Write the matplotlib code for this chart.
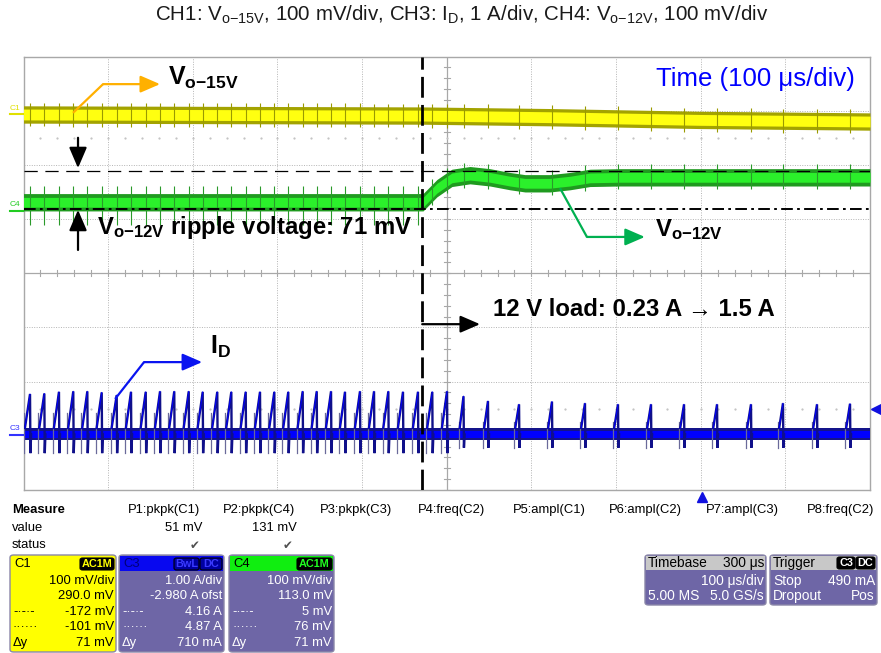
import numpy as np
import matplotlib
matplotlib.use("Agg")
import matplotlib.pyplot as plt
from matplotlib.patches import FancyBboxPatch, Rectangle
from matplotlib.lines import Line2D

plt.rcParams['font.family'] = ['Liberation Sans', 'DejaVu Sans']
plt.rcParams['mathtext.fontset'] = 'custom'
plt.rcParams['mathtext.rm'] = 'Liberation Sans'
plt.rcParams['mathtext.it'] = 'Liberation Sans'
plt.rcParams['mathtext.bf'] = 'Liberation Sans:bold'

# ---------------- data (time in µs, amplitude in screen divisions) ----------------
step_t = -29.0                       # load step instant
# CH1  Vo-15V band centre
c1_t = [-500, -29, 122, 299, 500]
c1_y = [2.93, 2.91, 2.88, 2.83, 2.80]
# CH4  Vo-12V band centre
c4_t = [-500, -29.3, -28.0, -11.6, 6.1, 27.4, 51.0, 74.7, 92.4, 121.9, 145.6, 169.2, 204.7, 500]
c4_y = [1.31, 1.31, 1.31, 1.57, 1.76, 1.81, 1.77, 1.70, 1.66, 1.66, 1.70, 1.76, 1.77, 1.77]
# CH4 cursors (mV) and CH4 zero position (div)
c4_zero = 1.13
cursor_mv = [5, 76]
# CH3  ID switching pulses: peak time and peak level
id_t = [-492.3, -475.4, -458.1, -441.2, -424.6, -407.6, -389.9, -373.0, -355.6, -338.7,
        -321.9, -304.8, -288.3, -271.1, -254.5, -237.5, -220.6, -203.7, -187.2, -170.2,
        -153.6, -136.7, -120.2, -102.5, -85.9, -69.0, -51.7, -34.0, -17.1, 0.3,
        19.8, 48.7, 85.4, 124.3, 163.3, 202.3, 241.3, 280.3, 319.3, 359.4, 397.2, 437.4, 476.4]
id_peak = [-2.23, -2.22, -2.19, -2.18, -2.18, -2.20, -2.25, -2.19, -2.19, -2.18,
           -2.18, -2.18, -2.19, -2.19, -2.19, -2.19, -2.19, -2.19, -2.19, -2.18,
           -2.18, -2.18, -2.19, -2.18, -2.18, -2.18, -2.19, -2.19, -2.19, -2.18,
           -2.27, -2.36, -2.42, -2.37, -2.40, -2.42, -2.42, -2.42, -2.42, -2.42, -2.40, -2.42, -2.41]
id_base = -2.975

W, H = 881, 653
fig = plt.figure(figsize=(W / 100, H / 100), dpi=100)
fig.patch.set_facecolor('white')
ax = fig.add_axes([23.5 / W, 1 - 490 / H, 846.5 / W, 433.5 / H])
ax.set_xlim(-500, 500)
ax.set_ylim(-4, 4)
ax.set_xticks([])
ax.set_yticks([])
for s in ax.spines.values():
    s.set_color('#a8a8a8')
    s.set_linewidth(1.0)

# ---------------- grid ----------------
gcol = '#b4b4b4'
for x in range(-400, 500, 100):
    if x != 0:
        ax.axvline(x, color=gcol, lw=0.7, ls=(0, (1, 1.5)), zorder=1)
for y in range(-3, 4):
    if y != 0:
        ax.axhline(y, color=gcol, lw=0.7, ls=(0, (1, 1.5)), zorder=1)
ax.axvline(0, color='#a8a8a8', lw=0.9, zorder=1)
ax.axhline(0, color='#a8a8a8', lw=0.9, zorder=1)
for v in np.arange(-4, 4.01, 0.2):
    ax.plot([-3.5, 3.5], [v, v], color='#a8a8a8', lw=0.8, zorder=1)
for v in np.arange(-500, 501, 20):
    ax.plot([v, v], [-0.055, 0.055], color='#a8a8a8', lw=0.8, zorder=1)
dots = np.arange(-480, 500, 20)
ax.plot(dots, np.full(dots.shape, 2.5), ls='none', marker='s', ms=0.6, color='#c4c4c4', zorder=1)
ax.plot(dots, np.full(dots.shape, -2.5), ls='none', marker='s', ms=0.6, color='#c4c4c4', zorder=1)

# ---------------- CH1 yellow ----------------
c1_t_a = np.array(c1_t); c1_y_a = np.array(c1_y)
ax.fill_between(c1_t_a, c1_y_a - 0.16, c1_y_a + 0.16, color='#a3a300', lw=0, zorder=3)
ax.fill_between(c1_t_a, c1_y_a - 0.10, c1_y_a + 0.10, color='#ffff10', lw=0, zorder=3)
c1_at = np.interp(id_t, c1_t_a, c1_y_a)
ax.vlines(id_t, c1_at - 0.22, c1_at + 0.22, color='#9a9a00', lw=0.8, zorder=3)

# ---------------- CH4 green ----------------
c4_t_a = np.array(c4_t); c4_y_a = np.array(c4_y)
ax.fill_between(c4_t_a, c4_y_a - 0.16, c4_y_a + 0.16, color='#1f9a1f', lw=0, zorder=3)
ax.fill_between(c4_t_a, c4_y_a - 0.09, c4_y_a + 0.09, color='#2bf02b', lw=0, zorder=3)
c4_at = np.interp(id_t, c4_t_a, c4_y_a)
pre = np.array(id_t) < step_t
ax.vlines(np.array(id_t)[pre], c4_at[pre] - 0.42, c4_at[pre] + 0.30, color='#2a9a2a', lw=0.8, zorder=3)
ax.vlines(np.array(id_t)[~pre], c4_at[~pre] - 0.22, c4_at[~pre] + 0.25, color='#2a9a2a', lw=0.8, zorder=3)

# ---------------- CH3 blue ----------------
ax.fill_between([-500, 500], [id_base - 0.11] * 2, [id_base + 0.12] * 2, color='#14148a', lw=0, zorder=3)
ax.fill_between([-500, 500], [id_base - 0.06] * 2, [id_base + 0.06] * 2, color='#0000ff', lw=0, zorder=3)
for t, h in zip(id_t, id_peak):
    post = t > 10
    rw = 4.5 if post else 6.0
    low = -3.22 if post else -3.32
    xs = [t - rw, t, t + 0.5, t + 1.3]
    ys = [id_base + 0.12, h, low, id_base]
    ax.plot([t - rw - 0.9] * 2, [(-2.75 if post else -2.58), low], color='#6a6a9a', lw=0.9, zorder=3)
    ax.plot(xs, ys, color='#10108a', lw=1.7, zorder=3, solid_joinstyle='miter')
    ax.plot(xs[:2], ys[:2], color='#0000ff', lw=0.7, zorder=3)

# ---------------- cursors and step marker ----------------
ax.axhline(c4_zero + cursor_mv[1] / 100, color='black', lw=0.9, ls=(0, (10.6, 6.1)), zorder=4)
ax.axhline(c4_zero + cursor_mv[0] / 100, color='black', lw=1.4, ls=(0, (6, 2.2, 1.4, 2.2)), zorder=4)
ax.axvline(step_t, color='black', lw=2.0, ls=(0, (7.5, 2.6)), zorder=5)

# ---------------- annotations ----------------
def bent_arrow(xs, ys, color, lw=1.6, hl=0.6, hw=0.26, ms=20):
    ax.plot(xs[:-1], ys[:-1], color=color, lw=lw, zorder=6, solid_capstyle='butt')
    ax.annotate('', xy=(xs[-1], ys[-1]), xytext=(xs[-2], ys[-2]), zorder=6,
                arrowprops=dict(arrowstyle='-|>,head_length=%g,head_width=%g' % (hl, hw),
                                color=color, lw=lw, mutation_scale=ms, shrinkA=0, shrinkB=0))

afs = 17.2
bent_arrow([-441.5, -406, -338.7], [2.96, 3.49, 3.49], '#ffb000')
ax.text(-329, 3.60, r'$\mathbf{V_{o{-}15V}}$', fontsize=afs + 0.8, fontweight='bold', va='center', ha='left', zorder=7)

bent_arrow([-435.6, -435.6], [2.50, 1.94], 'black', lw=1.6, hl=0.7, hw=0.3, ms=18)
bent_arrow([-435.6, -435.6], [0.43, 1.17], 'black', lw=1.6, hl=0.7, hw=0.3, ms=18)
ax.text(-413, 0.85, r'$\mathbf{V_{o{-}12V}}$ ripple voltage: 71 mV', fontsize=afs, fontweight='bold',
        va='center', ha='left', zorder=7)

bent_arrow([133.8, 165.6, 234], [1.57, 0.67, 0.67], '#00b050')
ax.text(246, 0.80, r'$\mathbf{V_{o{-}12V}}$', fontsize=afs, fontweight='bold', va='center', ha='left', zorder=7)

bent_arrow([step_t, 39.3], [-0.94, -0.94], 'black', lw=1.6)
ax.text(54.6, -0.66, '12 V load: 0.23 A \u2192 1.5 A', fontsize=afs, fontweight='bold',
        va='center', ha='left', zorder=7)

bent_arrow([-391.8, -357.6, -289], [-2.32, -1.64, -1.64], '#0a14f0')
ax.text(-279.7, -1.36, r'$\mathbf{I_D}$', fontsize=18, fontweight='bold', va='center', ha='left', zorder=7)

ax.text(482, 3.58, 'Time (100 \u03bcs/div)', fontsize=18.5, color='#0000ff', va='center', ha='right', zorder=7)

# trigger markers
ax.plot([301.5], [-4.12], marker='^', ms=6.5, color='#1010e0', clip_on=False, zorder=7)
ax.plot([507], [-2.51], marker='<', ms=6.5, color='#1010e0', clip_on=False, zorder=7)

# ---------------- title ----------------
def F(x, y):
    return (x / W, 1 - y / H)

fig.text(*F(462, 15), r'CH1: V$_{\mathregular{o{-}15V}}$, 100 mV/div, CH3: I$_{\mathregular{D}}$, 1 A/div, '
         r'CH4: V$_{\mathregular{o{-}12V}}$, 100 mV/div', fontsize=14.8, ha='center', va='center', color='#1a1a1a')

# channel markers at left
for lbl, y, col in [('C1', 114, '#e0e000'), ('C4', 211, '#22cc22'), ('C3', 435, '#3333ff')]:
    fig.text(*F(15, y - 6), lbl, fontsize=6, color=col, ha='center', va='center')
    fig.add_artist(Line2D([10 / W, 23 / W], [1 - y / H, 1 - y / H], color=col, lw=1.5))

# ---------------- measurement panel ----------------
fs = 9.4
fig.text(*F(12, 510), 'Measure', fontsize=fs, fontweight='bold', va='center')
fig.text(*F(12, 528), 'value', fontsize=fs, va='center')
fig.text(*F(12, 545), 'status', fontsize=fs, va='center')
params = ['P1:pkpk(C1)', 'P2:pkpk(C4)', 'P3:pkpk(C3)', 'P4:freq(C2)',
          'P5:ampl(C1)', 'P6:ampl(C2)', 'P7:ampl(C3)', 'P8:freq(C2)']
px = [128, 223, 320, 418, 513, 609, 706, 807]
for p, x in zip(params, px):
    fig.text(*F(x, 510), p, fontsize=fs, va='center')
fig.text(*F(202, 528), '51 mV', fontsize=fs, va='center', ha='right')
fig.text(*F(297, 528), '131 mV', fontsize=fs, va='center', ha='right')
for x in (195, 288):
    fig.text(*F(x, 545), '\u2714', fontsize=8.5, va='center', ha='center', color='#505050', family='DejaVu Sans')


def rbox(x0, y0, x1, y1, fc, ec='#8a86a8', lw=1.0, r=0.004):
    p = FancyBboxPatch((x0 / W, 1 - y1 / H), (x1 - x0) / W, (y1 - y0) / H,
                       boxstyle='round,pad=0,rounding_size=%g' % r, transform=fig.transFigure,
                       fc=fc, ec=ec, lw=lw)
    fig.add_artist(p)


def rect(x0, y0, x1, y1, fc, ec='none', lw=0):
    p = Rectangle((x0 / W, 1 - y1 / H), (x1 - x0) / W, (y1 - y0) / H, transform=fig.transFigure,
                  fc=fc, ec=ec, lw=lw)
    fig.add_artist(p)


def badge(x0, x1, y, txt, fc, tc, ec='black'):
    rbox(x0, y - 6, x1, y + 6, fc, ec=ec, lw=0.8, r=0.003)
    fig.text(*F((x0 + x1) / 2, y), txt, fontsize=7.8, color=tc, ha='center', va='center', fontweight='bold')


rows_y = [581, 596, 612, 627, 643]
purple = '#6e66a6'
# C1
rbox(10, 555, 116, 652, '#ffff00')
fig.text(*F(14, 564), 'C1', fontsize=fs, va='center', color='black')
badge(80, 114, 564, 'AC1M', 'black', '#ffff00')
c1_rows = ['100 mV/div', '290.0 mV', '-172 mV', '-101 mV', '71 mV']
left_lbls = ['', '', '-\u00b7-\u00b7-', '\u00b7\u00b7\u00b7\u00b7\u00b7\u00b7', '\u0394y']
for y, t, l in zip(rows_y, c1_rows, left_lbls):
    fig.text(*F(114, y), t, fontsize=fs, ha='right', va='center', color='black')
    fig.text(*F(13, y), l, fontsize=fs, ha='left', va='center', color='black')
# C3
rbox(119, 555, 224, 652, purple)
rect(120, 556, 223, 571, '#0808f0')
fig.text(*F(123, 564), 'C3', fontsize=fs, va='center', color='#00007a')
badge(174, 199, 564, 'BwL', '#0000a0', '#3a3aff')
badge(200, 222, 564, 'DC', '#0000a0', '#3a3aff')
c3_rows = ['1.00 A/div', '-2.980 A ofst', '4.16 A', '4.87 A', '710 mA']
for y, t, l in zip(rows_y, c3_rows, left_lbls):
    fig.text(*F(222, y), t, fontsize=fs, ha='right', va='center', color='white')
    fig.text(*F(122, y), l, fontsize=fs, ha='left', va='center', color='white')
# C4
rbox(229, 555, 334, 652, purple)
rect(230, 556, 333, 571, '#10ee10')
fig.text(*F(233, 564), 'C4', fontsize=fs, va='center', color='black')
badge(297, 332, 564, 'AC1M', 'black', '#20ff20')
c4_rows = ['100 mV/div', '113.0 mV', '5 mV', '76 mV', '71 mV']
for y, t, l in zip(rows_y, c4_rows, left_lbls):
    fig.text(*F(332, y), t, fontsize=fs, ha='right', va='center', color='white')
    fig.text(*F(232, y), l, fontsize=fs, ha='left', va='center', color='white')

# Timebase box
tfs = 9.9
rbox(645, 555, 766, 605, purple)
rect(646, 556, 765, 570, '#c8c8c8')
fig.text(*F(648, 563), 'Timebase', fontsize=tfs, va='center', color='black')
fig.text(*F(764, 563), '300 \u03bcs', fontsize=tfs, va='center', ha='right', color='black')
fig.text(*F(764, 581), '100 \u03bcs/div', fontsize=tfs, va='center', ha='right', color='white')
fig.text(*F(648, 596), '5.00 MS', fontsize=tfs, va='center', color='white')
fig.text(*F(764, 596), '5.0 GS/s', fontsize=tfs, va='center', ha='right', color='white')
# Trigger box
rbox(770, 555, 877, 605, purple)
rect(771, 556, 876, 570, '#c8c8c8')
fig.text(*F(773, 563), 'Trigger', fontsize=tfs, va='center', color='black')
badge(837, 855, 563, 'C3', 'black', 'white')
badge(856, 875, 563, 'DC', 'black', 'white')
fig.text(*F(773, 581), 'Stop', fontsize=tfs, va='center', color='white')
fig.text(*F(875, 581), '490 mA', fontsize=tfs, va='center', ha='right', color='white')
fig.text(*F(773, 596), 'Dropout', fontsize=tfs, va='center', color='white')
fig.text(*F(875, 596), 'Pos', fontsize=tfs, va='center', ha='right', color='white')

fig.savefig('out.png', dpi=100)
